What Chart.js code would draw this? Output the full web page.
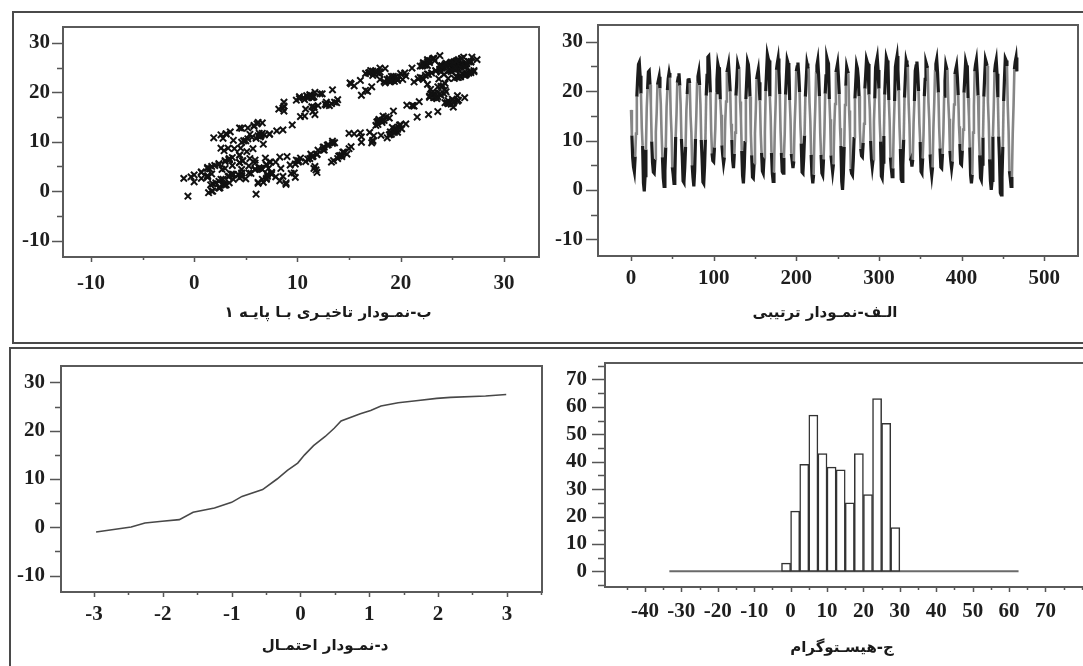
<!DOCTYPE html>
<html>
<head>
<meta charset="utf-8">
<script src="https://cdn.jsdelivr.net/npm/chart.js@4.4.1/dist/chart.umd.min.js"></script>
<style>
  html, body { margin: 0; padding: 0; background: #fff; }
  #page { position: relative; width: 1083px; height: 666px; overflow: hidden; background: #fff; }
  .frame { position: absolute; border: 2px solid #4a4a4a; }
  canvas { position: absolute; }
  .caption { position: absolute; font-family: 'DejaVu Sans', sans-serif; font-size: 15px; font-weight: bold;
             color: #1a1a1a; white-space: nowrap; transform: translateX(-50%); }
</style>
</head>
<body>
<div id="page">
  <div class="frame" style="left:12px; top:11px; width:1100px; height:329px;"></div>
  <div class="frame" style="left:9px; top:347px; width:1100px; height:340px;"></div>

  <canvas id="lagChart"></canvas>
  <canvas id="runChart"></canvas>
  <canvas id="probChart"></canvas>
  <canvas id="histChart"></canvas>

  <div class="caption" dir="rtl" style="left:328px; top:303px;">ب-نمـودار تاخیـری بـا پایـه ۱</div>
  <div class="caption" dir="rtl" style="left:825px; top:303px;">الـف-نمـودار ترتیبی</div>
  <div class="caption" dir="rtl" style="left:325px; top:636px;">د-نمـودار احتمـال</div>
  <div class="caption" dir="rtl" style="left:842px; top:638px;">ج-هیسـتوگرام</div>
</div>

<script>
// observations in run order
const seqValues = [
  16.2, 11.0, 6.5,
  4.6, 3.7, 6.8, 11.4, 18.9, 22.6, 25.4, 25.8, 23.1, 19.5, 12.6, 8.9,
  1.4, -0.3, 2.9, 8.2, 16.6, 20.4, 23.9, 24.1, 21.3, 17.2, 9.8, 5.5,
  3.6, 3.4, 6.3, 11.7, 15.5, 21.3, 22.1, 22.9, 20.6, 17.4, 11.2, 6.6,
  2.4, 0.7, 3.9, 8.6, 16.8, 20.2, 22.6, 23.7, 22.7, 15.5, 11.6, 4.6,
  3.1, 1.3, 2.8, 10.7, 15.2, 21.7, 22.7, 23.6, 21.1, 17.3, 10.3, 6.7,
  1.8, 1.5, 4.5, 8.7, 16.2, 19.4, 22.2, 22.6, 21.6, 15.0, 11.7, 5.0,
  2.5, 0.7, 3.8, 10.3, 15.1, 21.9, 23.0, 23.9, 21.2, 17.3, 10.1, 6.2,
  1.6, 1.3, 4.8, 10.2, 19.1, 23.2, 26.9, 27.1, 24.2, 19.7, 11.9, 7.4,
  5.9, 5.7, 8.6, 12.4, 19.7, 22.4, 25.5, 24.7, 24.6, 18.3, 15.2, 9.0,
  7.0, 5.4, 6.6, 13.8, 17.9, 23.8, 24.6, 25.5, 23.0, 19.9, 13.4, 10.1,
  5.9, 4.4, 7.3, 11.6, 19.1, 22.3, 25.5, 24.8, 24.5, 17.9, 14.5, 7.9,
  2.9, 1.3, 4.6, 9.9, 18.4, 22.2, 26.0, 25.4, 23.2, 18.9, 11.4, 7.0,
  2.6, 2.4, 5.4, 11.5, 16.1, 22.4, 23.4, 24.3, 21.8, 18.1, 11.3, 7.5,
  3.8, 3.4, 6.6, 11.7, 20.0, 23.8, 27.4, 26.6, 26.2, 18.9, 14.8, 7.5,
  3.4, 1.7, 3.5, 12.0, 17.3, 24.3, 25.6, 26.6, 23.9, 19.4, 11.9, 7.5,
  3.7, 3.4, 6.5, 11.3, 19.3, 22.8, 26.3, 25.7, 25.2, 18.2, 14.3, 7.3,
  5.9, 4.4, 5.8, 13.3, 17.7, 24.0, 24.9, 25.8, 23.3, 19.8, 13.0, 9.4,
  3.6, 3.4, 6.4, 11.0, 18.9, 22.2, 25.6, 24.8, 24.6, 17.7, 14.0, 7.1,
  3.0, 1.3, 3.1, 11.6, 16.9, 23.9, 25.2, 26.2, 23.4, 19.0, 11.5, 7.1,
  3.4, 3.0, 6.2, 11.2, 19.5, 23.1, 26.8, 26.1, 25.6, 18.4, 14.3, 7.0,
  5.3, 3.7, 5.2, 12.8, 17.4, 23.8, 24.7, 25.6, 23.0, 19.4, 12.5, 8.9,
  1.7, 0.0, 3.3, 8.7, 17.2, 21.1, 24.9, 24.2, 23.6, 16.1, 11.8, 4.3,
  3.3, 3.0, 6.0, 10.7, 18.5, 21.9, 25.3, 24.6, 22.8, 19.0, 12.0, 8.3,
  6.9, 6.7, 9.5, 13.4, 20.5, 23.3, 26.4, 25.8, 25.5, 19.3, 16.2, 9.9,
  6.3, 4.7, 6.2, 13.9, 18.5, 24.8, 25.9, 26.8, 24.3, 20.5, 13.6, 9.8,
  2.8, 2.4, 5.6, 10.9, 19.3, 23.2, 26.8, 26.2, 25.5, 18.2, 13.9, 6.6,
  4.4, 2.7, 4.4, 12.8, 18.0, 24.9, 26.1, 27.1, 24.4, 20.1, 12.6, 8.3,
  2.1, 1.7, 5.0, 10.2, 18.7, 22.6, 26.2, 25.5, 24.9, 17.6, 13.3, 5.9,
  6.3, 4.7, 6.1, 13.6, 18.0, 24.1, 25.1, 26.0, 23.6, 20.0, 13.4, 9.7,
  3.7, 3.4, 6.4, 11.1, 19.0, 22.4, 25.8, 25.2, 24.7, 17.8, 14.1, 7.2,
  4.6, 3.0, 4.6, 12.7, 17.6, 24.3, 25.5, 26.4, 23.8, 19.7, 12.5, 8.4,
  4.6, 4.4, 7.3, 11.5, 19.0, 22.1, 25.3, 24.6, 24.3, 17.9, 14.4, 7.9,
  5.9, 4.4, 5.8, 13.1, 17.3, 23.4, 24.4, 25.2, 22.8, 19.2, 12.9, 9.3,
  5.3, 5.1, 8.0, 12.2, 19.7, 22.8, 26.0, 25.3, 25.0, 18.6, 15.0, 8.6,
  3.0, 1.3, 3.1, 11.6, 17.0, 24.0, 25.4, 26.3, 23.6, 19.1, 11.5, 7.0,
  2.4, 2.0, 5.2, 10.6, 18.9, 22.8, 26.4, 25.8, 25.1, 17.8, 13.5, 6.2,
  1.8, 0.0, 1.9, 10.8, 16.6, 23.8, 25.4, 26.3, 23.5, 18.7, 10.8, 6.0,
  -0.6, -1.0, 2.6, 8.7, 18.0, 22.6, 26.6, 26.2, 25.1, 17.0, 11.9, 3.8,
  2.4, 0.7, 2.6, 11.4, 17.1, 24.4, 25.9, 26.8, 24.0
];

// normal probability plot (normal score, ordered value)
const probScores = [-2.97, -2.46, -2.26, -2.01, -1.76, -1.56, -1.25, -1.0, -0.85, -0.55, -0.34, -0.19, -0.04,
                    0.06, 0.19, 0.36, 0.49, 0.59, 0.87, 1.02, 1.17, 1.42, 1.68, 1.98, 2.18, 2.69, 2.99];
const probValues = [-0.96, 0.07, 0.9, 1.24, 1.58, 3.1, 4.0, 5.16, 6.4, 7.8, 10.0, 11.8, 13.3,
                    15.0, 16.9, 18.8, 20.5, 22.0, 23.5, 24.2, 25.1, 25.8, 26.2, 26.7, 26.9, 27.2, 27.5];

// histogram bins (width 2.5) and counts
const histCenters = [-1.25, 1.25, 3.75, 6.25, 8.75, 11.25, 13.75, 16.25, 18.75, 21.25, 23.75, 26.25, 28.75];
const histCounts  = [3, 22, 39, 57, 43, 38, 37, 25, 43, 28, 63, 54, 16];
const histBaseline = [-33.3, 62.6];

const tickFont = { family: "'Liberation Serif', 'Times New Roman', serif", size: 21, weight: 'bold' };

// plot frame plus major/minor tick marks drawn off the chart's scales
const frameTicks = {
  id: 'frameTicks',
  afterDraw(chart, args, o) {
    const { ctx, chartArea: a } = chart;
    const xs = chart.scales.x, ys = chart.scales.y;
    ctx.save();
    ctx.strokeStyle = '#555';
    ctx.lineWidth = 1.5;
    ctx.beginPath();
    xs.ticks.forEach(t => {
      const px = Math.round(xs.getPixelForValue(t.value)) + 0.5;
      const len = t.label !== '' ? o.xMajor : o.xMinor;
      ctx.moveTo(px, a.bottom);
      ctx.lineTo(px, a.bottom + len);
    });
    ys.ticks.forEach(t => {
      const py = Math.round(ys.getPixelForValue(t.value)) + 0.5;
      const len = t.label !== '' ? o.yMajor : o.yMinor;
      ctx.moveTo(a.left, py);
      ctx.lineTo(a.left - len, py);
    });
    ctx.stroke();
    ctx.lineWidth = 2;
    ctx.strokeStyle = '#5a5a5a';
    ctx.strokeRect(a.left, a.top, a.right - a.left, a.bottom - a.top);
    ctx.restore();
  }
};

// linear axis: ticks every `step`, labels every `every`, none past `lastLabel`
function axis(min, max, step, every, pad, lastLabel) {
  return {
    type: 'linear', min, max,
    grid: { display: false, drawTicks: false }, border: { display: false },
    ticks: {
      stepSize: step, includeBounds: false, autoSkip: false, maxRotation: 0, minRotation: 0,
      padding: pad, color: '#1e1e1e', font: tickFont,
      callback: v => {
        const major = Math.abs(v / every - Math.round(v / every)) < 1e-6;
        if (!major || (lastLabel !== undefined && v > lastLabel)) return '';
        return String(Math.round(v * 10) / 10);
      }
    }
  };
}

// box = plot-area edges in page pixels
function makePanel(id, box, type, data, xAxis, yAxis, ticks) {
  const padL = 80, padB = 50, padT = 34, padR = 24;
  const cv = document.getElementById(id);
  cv.width = box.r - box.l + padL + padR;
  cv.height = box.b - box.t + padB + padT;
  cv.style.left = (box.l - padL) + 'px';
  cv.style.top = (box.t - padT) + 'px';
  xAxis.afterFit = s => { s.height = padB; };
  yAxis.afterFit = s => { s.width = padL; };
  return new Chart(cv, {
    type, data,
    options: {
      responsive: false, animation: false, devicePixelRatio: 1,
      layout: { padding: { left: 0, right: padR, top: padT, bottom: 0 } },
      plugins: { legend: { display: false }, tooltip: { enabled: false }, frameTicks: ticks },
      scales: { x: xAxis, y: yAxis }
    },
    plugins: [frameTicks]
  });
}

// lag-1 pairs built from the run order
const lagPoints = seqValues.slice(0, -1).map((v, i) => ({ x: v, y: seqValues[i + 1] }));
const runPoints = seqValues.map((v, i) => ({ x: i, y: v }));
const probPoints = probScores.map((s, i) => ({ x: s, y: probValues[i] }));
const histPoints = histCenters.map((c, i) => ({ x: c, y: histCounts[i] }));

// top left: lag plot
makePanel('lagChart', { l: 63, r: 539, t: 27, b: 257 }, 'scatter', {
  datasets: [{
    data: lagPoints, pointStyle: 'crossRot', pointRadius: 4.5, pointBorderWidth: 2,
    pointBorderColor: '#111', pointBackgroundColor: '#111'
  }]
}, axis(-12.7, 33.4, 5, 10, 14), axis(-13.3, 33.2, 5, 10, 13),
  { xMajor: 5, xMinor: 3, yMajor: 11, yMinor: 6 });

// top right: run order plot, segments dwelling near the highs/lows drawn darker
const nearExtreme = c => (c.p0.parsed.y >= 18 && c.p1.parsed.y >= 18) || (c.p0.parsed.y <= 11 && c.p1.parsed.y <= 11);
makePanel('runChart', { l: 598, r: 1078, t: 25, b: 256 }, 'scatter', {
  datasets: [{
    data: runPoints, showLine: true, borderColor: '#868686', borderWidth: 2.6,
    segment: {
      borderColor: c => (nearExtreme(c) ? '#1c1c1c' : '#868686'),
      borderWidth: c => (nearExtreme(c) ? 3.2 : 2.6)
    },
    pointRadius: 0
  }]
}, axis(-40, 541, 50, 100, 10), axis(-13.4, 33.4, 5, 10, 15),
  { xMajor: 5, xMinor: 3, yMajor: 12, yMinor: 7 });

// bottom left: normal probability plot
makePanel('probChart', { l: 61, r: 542, t: 366, b: 592 }, 'scatter', {
  datasets: [{
    data: probPoints, showLine: true, borderColor: '#484848', borderWidth: 1.6, pointRadius: 0
  }]
}, axis(-3.48, 3.51, 0.5, 1, 10), axis(-13.4, 33.4, 5, 10, 16),
  { xMajor: 5, xMinor: 3, yMajor: 11, yMinor: 6 });

// bottom right: histogram
makePanel('histChart', { l: 605, r: 1092, t: 363, b: 587 }, 'bar', {
  datasets: [{
    type: 'bar', data: histPoints, backgroundColor: '#fff', borderColor: '#333', borderWidth: 1.5,
    borderSkipped: false, barPercentage: 1, categoryPercentage: 1, grouped: false
  }, {
    type: 'line', data: histBaseline.map(x => ({ x, y: 0 })), borderColor: '#6a6a6a',
    borderWidth: 2, pointRadius: 0
  }]
}, axis(-48.4, 80.2, 5, 10, 12, 70), axis(-5.7, 76, 5, 10, 18),
  { xMajor: 5, xMinor: 3, yMajor: 13, yMinor: 7 });
</script>
</body>
</html>
